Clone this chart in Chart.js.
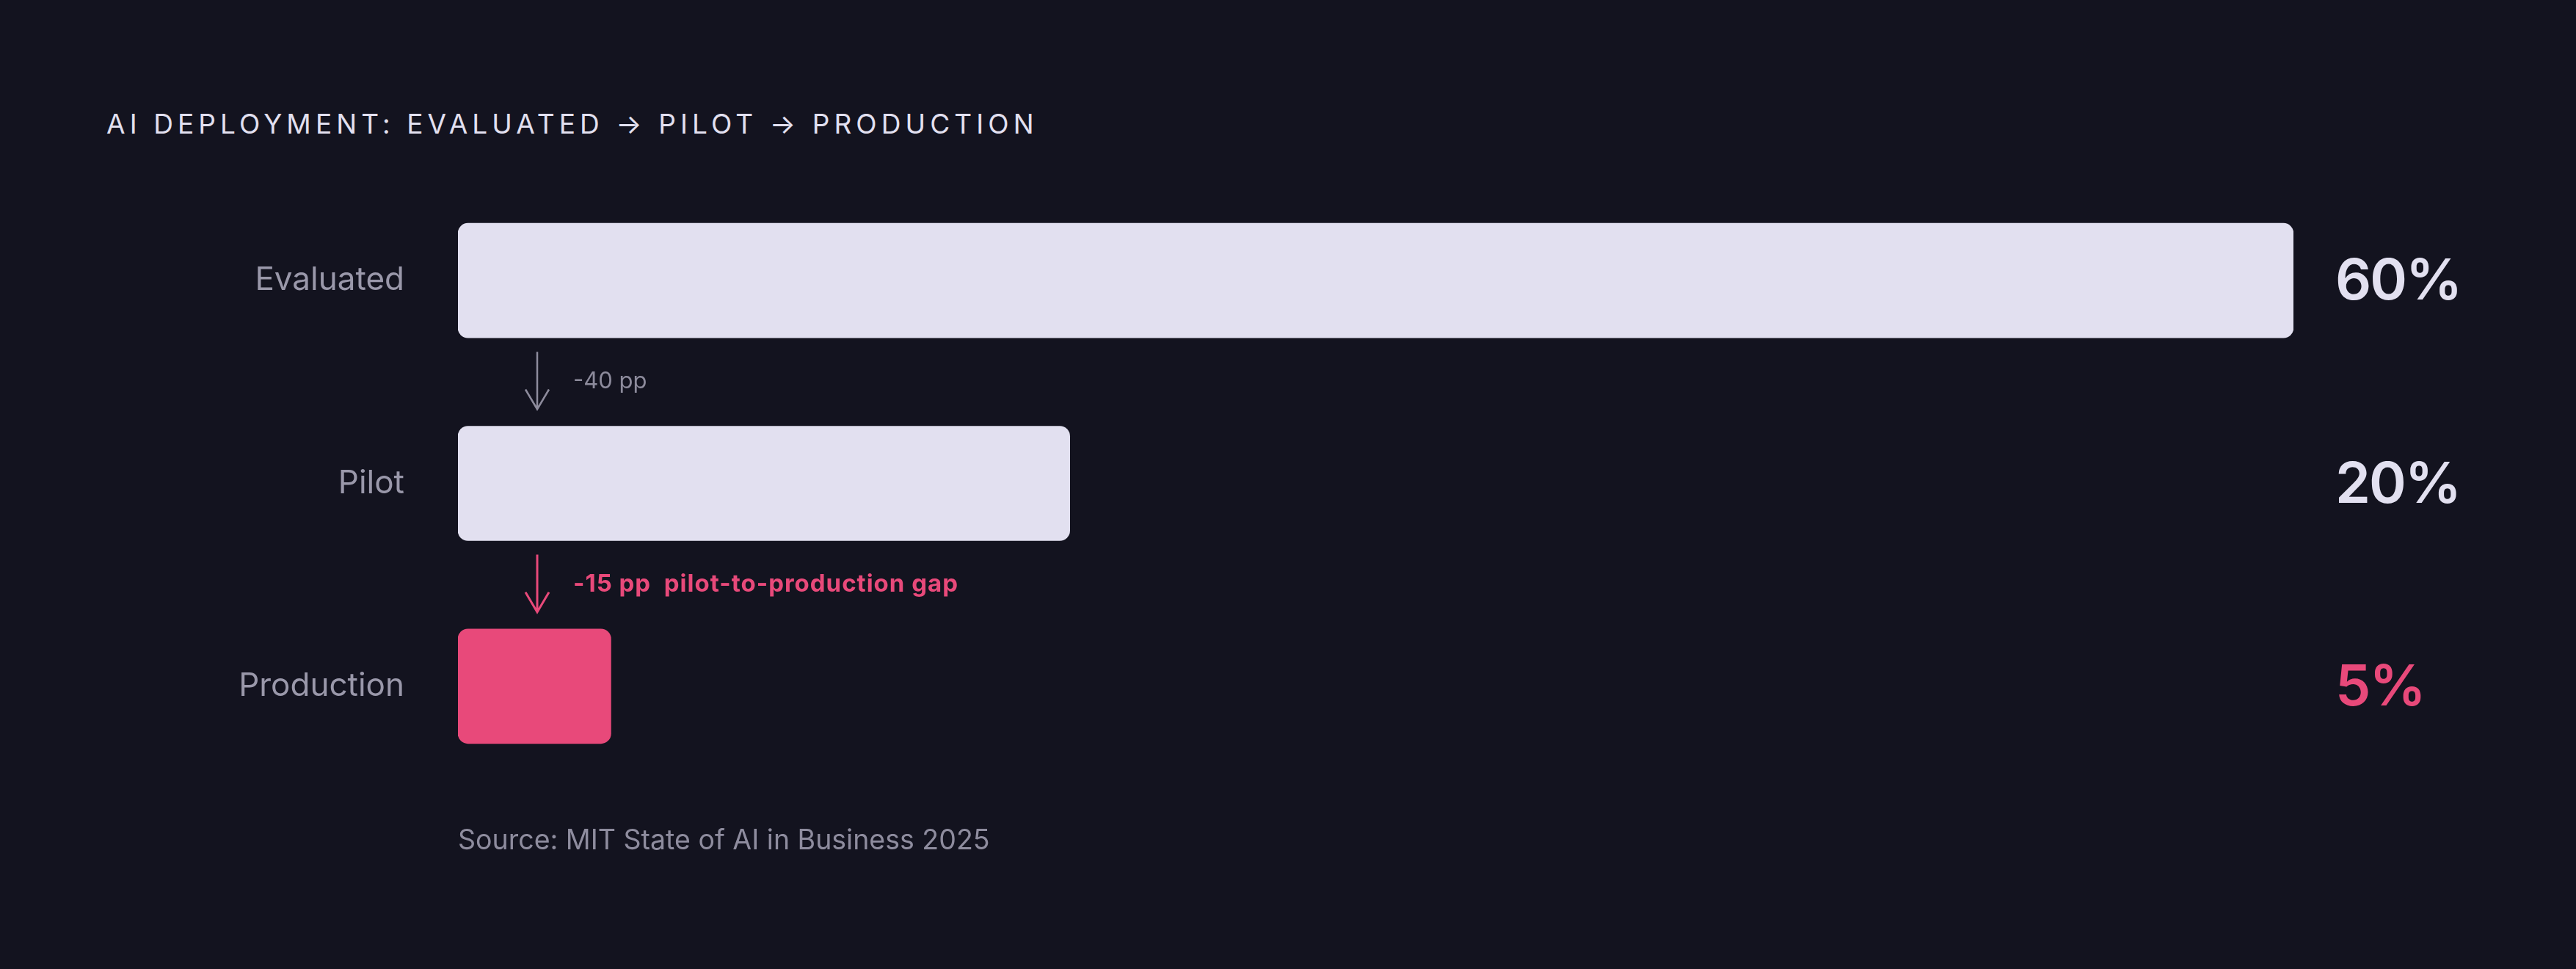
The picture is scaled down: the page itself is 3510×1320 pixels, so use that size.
<!DOCTYPE html>
<html>
<head>
<meta charset="utf-8">
<script src="https://cdn.jsdelivr.net/npm/chart.js@4/dist/chart.umd.min.js"></script>
<style>
  body { margin: 0; background: #13131f; }
  #wrap { position: relative; width: 3510px; height: 1320px; background: #13131f; }
  #chart-canvas { position: absolute; left: 0; top: 0; }
  .title { position: absolute; left: 145px; top: 150px; font: 400 37px Inter, sans-serif; line-height: 37px; color: #e2e0f0; letter-spacing: 6.1px; white-space: nowrap; }
  .source { position: absolute; left: 624px; top: 1126px; font: 400 37.5px Inter, sans-serif; line-height: 36px; color: #8e8c9e; white-space: nowrap; }
</style>
</head>
<body>
<div id="wrap">
  <div class="title">AI DEPLOYMENT: EVALUATED → PILOT → PRODUCTION</div>
  <canvas id="chart-canvas" width="3510" height="1320"></canvas>
  <div class="source">Source: MIT State of AI in Business 2025</div>
</div>
<script>
// funnel data
let categories = ["Evaluated", "Pilot", "Production"];
let shares = [60, 20, 5];
let valueLabels = ["60%", "20%", "5%"];
let dropLabels = ["-40 pp", "-15 pp  pilot-to-production gap"];
let barColors = ["#e2e0f0", "#e2e0f0", "#e8497a"];

let chart = document.getElementById("chart-canvas").getContext("2d");

// value column + drop arrows between the bars
let funnelNotes = {
  id: "funnelNotes",
  afterDatasetsDraw: function (c) {
    let ctx = c.ctx;
    let area = c.chartArea;
    let bars = c.getDatasetMeta(0).data;
    ctx.save();

    ctx.font = "600 77px Inter";
    ctx.letterSpacing = "-2px";
    ctx.textAlign = "left";
    ctx.textBaseline = "alphabetic";
    bars.forEach(function (bar, i) {
      ctx.fillStyle = barColors[i];
      ctx.fillText(valueLabels[i], area.right + 57, bar.y + 26);
    });

    for (let i = 0; i < bars.length - 1; i++) {
      let top = bars[i].y + bars[i].height / 2 + 19;
      let tip = bars[i + 1].y - bars[i + 1].height / 2 - 23;
      let x = area.left + 108;
      let pink = i == bars.length - 2;
      let color = pink ? "#e8497a" : "#8d8b9c";

      ctx.strokeStyle = color;
      ctx.lineWidth = pink ? 3 : 2.5;
      ctx.beginPath();
      ctx.moveTo(x, top);
      ctx.lineTo(x, tip);
      ctx.moveTo(x - 16, tip - 27);
      ctx.lineTo(x, tip);
      ctx.lineTo(x + 16, tip - 27);
      ctx.stroke();

      ctx.fillStyle = color;
      ctx.font = pink ? "700 33px Inter" : "400 31px Inter";
      ctx.letterSpacing = pink ? "1px" : "0px";
      ctx.textBaseline = "middle";
      ctx.fillText(dropLabels[i], x + 49, (top + tip) / 2 + 1);
    }
    ctx.restore();
  },
};

let chart1 = new Chart(chart, {
  type: "bar",
  data: {
    labels: categories,
    datasets: [
      {
        label: "Share of companies",
        data: shares,
        backgroundColor: barColors,
        borderRadius: 14,
        borderSkipped: false,
        barThickness: 156,
      },
    ],
  },
  options: {
    indexAxis: "y",
    responsive: false,
    animation: false,
    devicePixelRatio: 1,
    layout: { padding: { top: 244, bottom: 247, right: 385, left: 0 } },
    plugins: {
      legend: { display: false },
      tooltip: { enabled: false },
    },
    scales: {
      x: { display: false, min: 0, max: 60 },
      y: {
        grid: { display: false, drawTicks: false },
        border: { display: false },
        ticks: {
          color: "#9a98aa",
          font: { family: "Inter", size: 44 },
          padding: 73,
        },
        afterFit: function (scale) {
          scale.width = 624;
        },
      },
    },
  },
  plugins: [funnelNotes],
});
</script>
</body>
</html>
